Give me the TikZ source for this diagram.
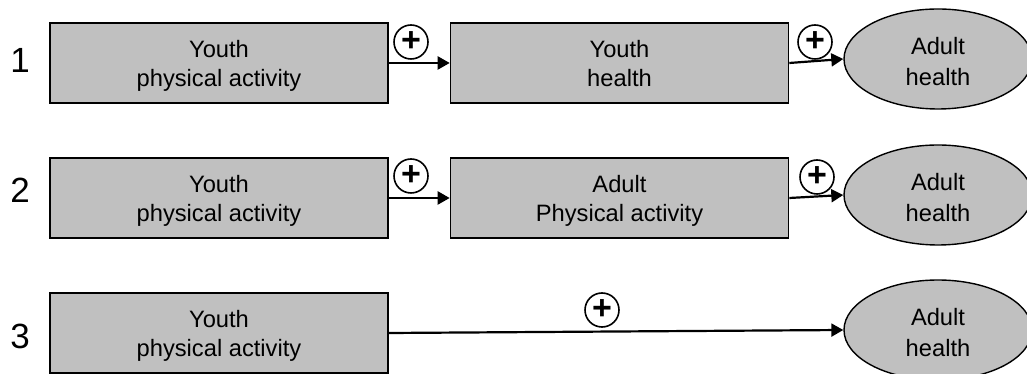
\documentclass[tikz,border=0pt]{standalone}
\usepackage{fontspec}
\setmainfont{Liberation Sans}
\usetikzlibrary{arrows.meta,shapes.geometric}
\definecolor{boxgray}{RGB}{192,192,192}
\begin{document}
\begin{tikzpicture}[x=1pt,y=1pt,
  stepbox/.style={draw=black, line width=1.6pt, fill=boxgray,
    minimum width=338pt, minimum height=80pt, inner sep=0pt, align=center,
    font=\fontsize{23.7}{29}\selectfont,
    text height=50pt, text depth=2pt},
  outcome/.style={ellipse, draw=black, line width=1.4pt, fill=boxgray,
    minimum width=188pt, minimum height=100pt, inner sep=0pt, align=center,
    font=\fontsize{23.7}{31}\selectfont,
    text height=54pt, text depth=0pt},
  rownum/.style={font=\fontsize{35}{42}\selectfont, inner sep=0pt},
  sign/.style={circle, draw=black, line width=1.6pt, minimum size=34pt,
    inner sep=0pt, font=\fontsize{34}{34}\selectfont\bfseries},
  link/.style={line width=2.2pt, -{Triangle[length=12pt,width=13pt]}}
]
\useasboundingbox (0,0) rectangle (1027,374);

% Pathway 1: youth activity -> youth health -> adult health
\node[rownum] (n1) at (20,314) {1};
\node[stepbox] (a1) at (219,311) {Youth\\physical activity};
\node[stepbox] (h1) at (619.5,311) {Youth\\health};
\node[outcome] (e1) at (938,315) {Adult\\health};
\draw[link] (a1.east) -- (h1.west);
\draw[link] (h1.east) -- (e1.west);
\node[sign] (p1a) at (411,332) {+};
\node[sign] (p1b) at (815,332) {+};

% Pathway 2: youth activity -> adult activity -> adult health
\node[rownum] (n2) at (20,184) {2};
\node[stepbox] (a2) at (219,176) {Youth\\physical activity};
\node[stepbox] (h2) at (619.5,176) {Adult\\Physical activity};
\node[outcome] (e2) at (938,179) {Adult\\health};
\draw[link] (a2.east) -- (h2.west);
\draw[link] (h2.east) -- (e2.west);
\node[sign] (p2a) at (411,198) {+};
\node[sign] (p2b) at (817,197) {+};

% Pathway 3: direct effect of youth activity on adult health
\node[rownum] (n3) at (20,38) {3};
\node[stepbox] (a3) at (219,41) {Youth\\physical activity};
\node[outcome] (e3) at (938,44) {Adult\\health};
\draw[link] (a3.east) -- (e3.west);
\node[sign] (p3) at (602,64) {+};
\end{tikzpicture}
\end{document}
